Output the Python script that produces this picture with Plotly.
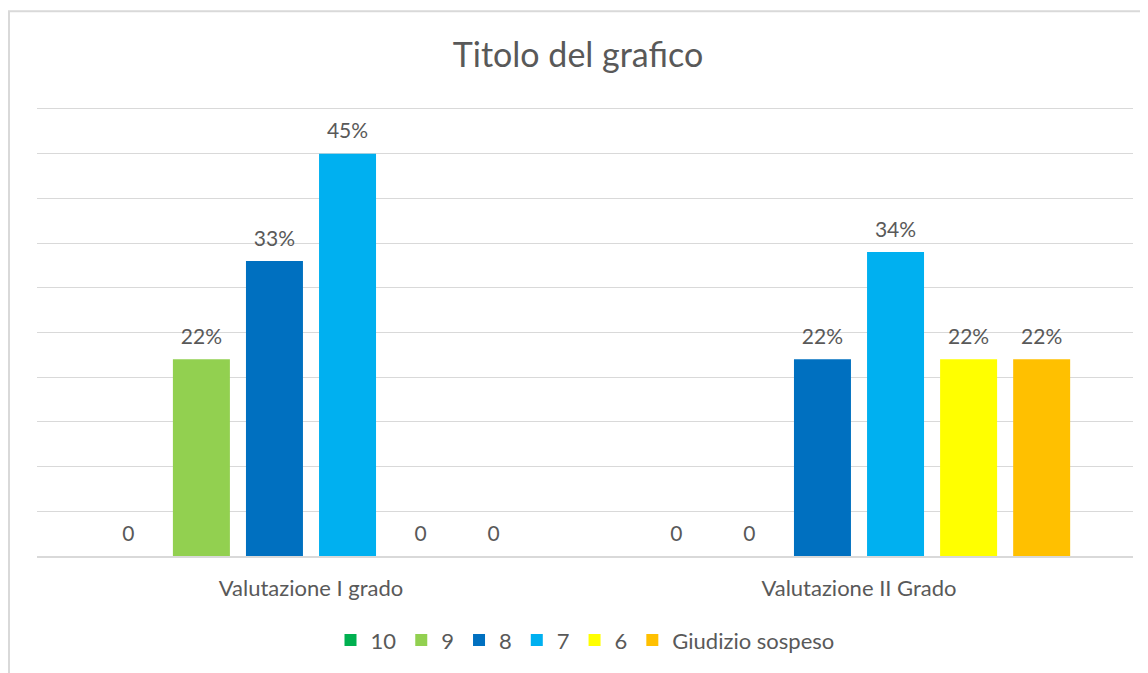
import plotly.graph_objects as go

categories = ["Valutazione I grado", "Valutazione II Grado"]
series_names = ["10", "9", "8", "7", "6", "Giudizio sospeso"]
values = {
    "10": [0, 0],
    "9": [0.22, 0],
    "8": [0.33, 0.22],
    "7": [0.45, 0.34],
    "6": [0, 0.22],
    "Giudizio sospeso": [0, 0.22],
}
colors = ["#00B050", "#92D050", "#0070C0", "#00B0F0", "#FFFF00", "#FFC000"]

FONT = "Lato, Carlito, Calibri, sans-serif"
TXT = "#595959"

W, H = 1140, 665
L, R, T, B = 29, 15, 99, 113
PW, PH = W - L - R, H - T - B
YMAX = 0.5022

fig = go.Figure()
for name, col in zip(series_names, colors):
    vals = values[name]
    labels = ["0" if v == 0 else f"{round(v*100)}%" for v in vals]
    fig.add_trace(go.Bar(
        x=categories, y=vals, name=name, marker_color=col,
        marker_line_width=0,
        text=labels, textposition="outside", constraintext="none",
        texttemplate="<span style='font-size:21px'>%{text}</span><br> ",
        textfont=dict(size=8, color=TXT, family=FONT),
        cliponaxis=False,
    ))

fig.update_layout(
    width=W, height=H,
    paper_bgcolor="white", plot_bgcolor="white",
    barmode="group", bargap=0.2, bargroupgap=0.22,
    margin=dict(l=L, r=R, t=T, b=B),
    title=dict(text="Titolo del grafico", x=0.5, xanchor="center",
               y=1 - 47 / H, yanchor="middle",
               font=dict(size=34, color=TXT, family=FONT)),
    font=dict(family=FONT, color=TXT),
    legend=dict(orientation="h", x=0.5, xanchor="center",
                y=(H - B - 637) / PH, yanchor="middle", itemwidth=30,
                font=dict(size=22, color=TXT, family=FONT), traceorder="normal"),
    xaxis=dict(showline=True, linecolor="#D9D9D9", linewidth=1.5, ticks="",
               tickfont=dict(size=22, color=TXT, family=FONT), showgrid=False,
               ticklabelstandoff=12),
    yaxis=dict(range=[0, YMAX], tick0=0, dtick=0.05, showticklabels=False, showgrid=True,
               gridcolor="#D9D9D9", gridwidth=1, zeroline=False, showline=False),
    shapes=[dict(type="rect", xref="paper", yref="paper",
                 x0=(1 - L) / PW, x1=1.1, y0=-0.4, y1=(H - B - 2.5) / PH,
                 line=dict(color="#D9D9D9", width=2), fillcolor="rgba(0,0,0,0)",
                 layer="below")],
)

fig.write_html("out.html")
